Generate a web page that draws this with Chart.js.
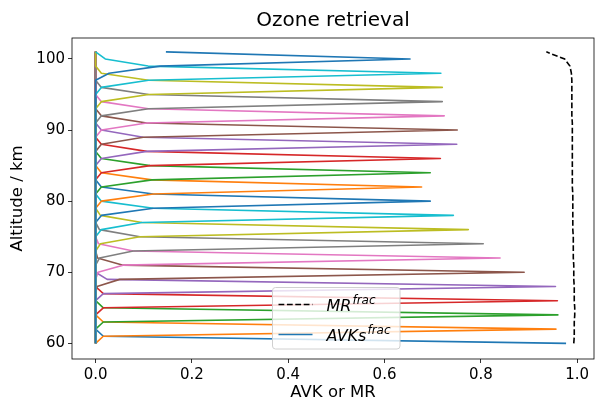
<!DOCTYPE html>
<html>
<head>
<meta charset="utf-8">
<script src="https://cdn.jsdelivr.net/npm/chart.js@4.4.0/dist/chart.umd.min.js"></script>
<style>
    html, body { margin: 0; padding: 0; background: #ffffff; }
    #wrap { width: 595px; height: 401px; }
</style>
</head>
<body>
<div id="wrap"><canvas id="ozoneChart" width="595" height="401"></canvas></div>
<script>
const altitudes = [60, 61, 62, 63, 64, 65, 66, 67, 68, 69, 70, 71, 72, 73, 74, 75, 76, 77, 78, 79, 80,
    81, 82, 83, 84, 85, 86, 87, 88, 89, 90, 91, 92, 93, 94, 95, 96, 97, 98, 99, 100, 101];

const mrFrac = [0.993, 0.994, 0.994, 0.994, 0.995, 0.995, 0.994, 0.994, 0.994, 0.993, 0.993,
    0.993, 0.992, 0.992, 0.992, 0.992, 0.991, 0.991, 0.991, 0.991, 0.991,
    0.991, 0.990, 0.990, 0.990, 0.990, 0.990, 0.990, 0.990, 0.990, 0.990,
    0.990, 0.989, 0.989, 0.989, 0.989, 0.989, 0.989, 0.988, 0.985, 0.974, 0.936];

// one averaging kernel per retrieval level
const peakAltitudes = [60, 62, 64, 66, 68, 70, 72, 74, 76, 78, 80, 82, 84, 86, 88, 90, 92, 94, 96, 98, 100];
const peakValues = [0.977, 0.956, 0.960, 0.959, 0.955, 0.890, 0.840, 0.805, 0.774, 0.743, 0.695,
    0.677, 0.695, 0.716, 0.750, 0.751, 0.724, 0.720, 0.720, 0.717, 0.653];
const belowOne = [null, 0.016, 0.016, 0.016, 0.016, 0.050, 0.057, 0.078, 0.092, 0.096, 0.120,
    0.120, 0.117, 0.113, 0.106, 0.099, 0.106, 0.110, 0.110, 0.110, 0.134];
const aboveOne = [0.016, 0.016, 0.016, 0.016, 0.024, 0.057, 0.078, 0.092, 0.096, 0.120, 0.120,
    0.117, 0.113, 0.106, 0.099, 0.106, 0.110, 0.110, 0.110, 0.109, 0.146];
const belowTwo = [null, 0, 0, 0, 0, 0.003, 0.005, 0.008, 0.010, 0.012, 0.012,
    0.012, 0.012, 0.012, 0.012, 0.012, 0.012, 0.012, 0.012, 0.012, 0.028];
const aboveTwo = [0, 0, 0, 0, 0, 0.004, 0.006, 0.008, 0.010, 0.012, 0.012,
    0.012, 0.012, 0.012, 0.012, 0.012, 0.012, 0.012, 0.012, 0.020, null];

const xTicks = [0.0, 0.2, 0.4, 0.6, 0.8, 1.0];
const yTicks = [60, 70, 80, 90, 100];

const kernelColors = ['#1f77b4', '#ff7f0e', '#2ca02c', '#d62728', '#9467bd',
    '#8c564b', '#e377c2', '#7f7f7f', '#bcbd22', '#17becf'];

function kernelRow(k) {
    const p = peakAltitudes[k];
    const known = {};
    known[p - 2] = belowTwo[k];
    known[p - 1] = belowOne[k];
    known[p] = peakValues[k];
    known[p + 1] = aboveOne[k];
    known[p + 2] = aboveTwo[k];
    return altitudes.map(a => ({ x: known[a] ?? 0, y: a }));
}

const datasets = [{
    label: 'MR frac',
    data: altitudes.map((a, i) => ({ x: mrFrac[i], y: a })),
    borderColor: '#000000',
    borderDash: [5.8, 2.6],
    borderWidth: 1.6,
    order: 100
}];

peakAltitudes.forEach((p, k) => {
    datasets.push({
        label: 'AVK ' + p,
        data: kernelRow(k),
        borderColor: kernelColors[k % kernelColors.length],
        borderWidth: 1.6,
        borderJoinStyle: 'round',
        order: peakAltitudes.length - k
    });
});

const frame = {
    id: 'frame',
    afterDatasetsDraw(chart) {
        const { ctx, chartArea } = chart;
        ctx.save();
        ctx.strokeStyle = '#000000';
        ctx.lineWidth = 0.8;
        ctx.strokeRect(chartArea.left, chartArea.top,
            chartArea.right - chartArea.left, chartArea.bottom - chartArea.top);
        ctx.restore();
    }
};

const legendEntries = [
    { base: 'MR', sup: 'frac', dataset: 0 },
    { base: 'AVKs', sup: 'frac', dataset: 1 }
];

const fracLegend = {
    id: 'fracLegend',
    afterDraw(chart) {
        const { ctx, chartArea } = chart;
        const left = chartArea.left + 200.5;
        const top = chartArea.top + 249.5;
        const w = 127.5;
        const h = 61.5;
        ctx.save();
        ctx.beginPath();
        ctx.roundRect(left, top, w, h, 3);
        ctx.fillStyle = 'rgba(255, 255, 255, 0.8)';
        ctx.fill();
        ctx.strokeStyle = '#d0d0d0';
        ctx.lineWidth = 1;
        ctx.stroke();

        legendEntries.forEach((entry, i) => {
            const ds = chart.data.datasets[entry.dataset];
            const y = top + 17 + i * 30;
            ctx.beginPath();
            ctx.strokeStyle = ds.borderColor;
            ctx.lineWidth = 1.6;
            ctx.setLineDash(ds.borderDash || []);
            ctx.moveTo(left + 6, y);
            ctx.lineTo(left + 40, y);
            ctx.stroke();
            ctx.setLineDash([]);

            ctx.fillStyle = '#000000';
            ctx.textBaseline = 'alphabetic';
            ctx.font = 'italic 16px "DejaVu Sans"';
            const tx = left + 54;
            ctx.fillText(entry.base, tx, y + 6);
            const bw = ctx.measureText(entry.base).width;
            ctx.font = 'italic 12px "DejaVu Sans"';
            ctx.fillText(entry.sup, tx + bw + 1, y - 1);
        });
        ctx.restore();
    }
};

Chart.defaults.font.family = "'DejaVu Sans', sans-serif";
Chart.defaults.color = '#000000';

function initChart() {
    const ctx = document.getElementById('ozoneChart').getContext('2d');

    new Chart(ctx, {
        type: 'line',
        data: { datasets: datasets },
        options: {
            responsive: false,
            animation: false,
            devicePixelRatio: 1,
            layout: { padding: { right: 1 } },
            elements: { point: { radius: 0 }, line: { tension: 0 } },
            plugins: {
                legend: { display: false },
                tooltip: { enabled: false },
                title: {
                    display: true,
                    text: 'Ozone retrieval',
                    fullSize: false,
                    font: { size: 20, weight: 'normal' },
                    padding: { top: 9, bottom: 5 }
                }
            },
            scales: {
                x: {
                    type: 'linear',
                    min: -0.049,
                    max: 1.035,
                    afterBuildTicks: scale => { scale.ticks = xTicks.map(v => ({ value: v })); },
                    afterFit: scale => { scale.height = 42; },
                    ticks: {
                        autoSkip: false,
                        maxRotation: 0,
                        padding: 3,
                        font: { size: 15 },
                        callback: v => v.toFixed(1)
                    },
                    grid: {
                        drawOnChartArea: false,
                        drawTicks: true,
                        tickLength: 4,
                        tickColor: '#000000',
                        tickWidth: 0.8
                    },
                    border: { display: false },
                    title: {
                        display: true,
                        text: 'AVK or MR',
                        font: { size: 16.5, lineHeight: 1 },
                        padding: { top: 0, bottom: 0 }
                    }
                },
                y: {
                    type: 'linear',
                    min: 57.8,
                    max: 102.95,
                    afterBuildTicks: scale => { scale.ticks = yTicks.map(v => ({ value: v })); },
                    afterFit: scale => { scale.width = 72; },
                    ticks: {
                        autoSkip: false,
                        padding: 3,
                        font: { size: 15 }
                    },
                    grid: {
                        drawOnChartArea: false,
                        drawTicks: true,
                        tickLength: 4,
                        tickColor: '#000000',
                        tickWidth: 0.8
                    },
                    border: { display: false },
                    title: {
                        display: true,
                        text: 'Altitude / km',
                        font: { size: 16.5, lineHeight: 1 },
                        padding: { top: 9, bottom: 0 }
                    }
                }
            }
        },
        plugins: [frame, fracLegend]
    });
}

window.addEventListener('load', initChart);
</script>
</body>
</html>
